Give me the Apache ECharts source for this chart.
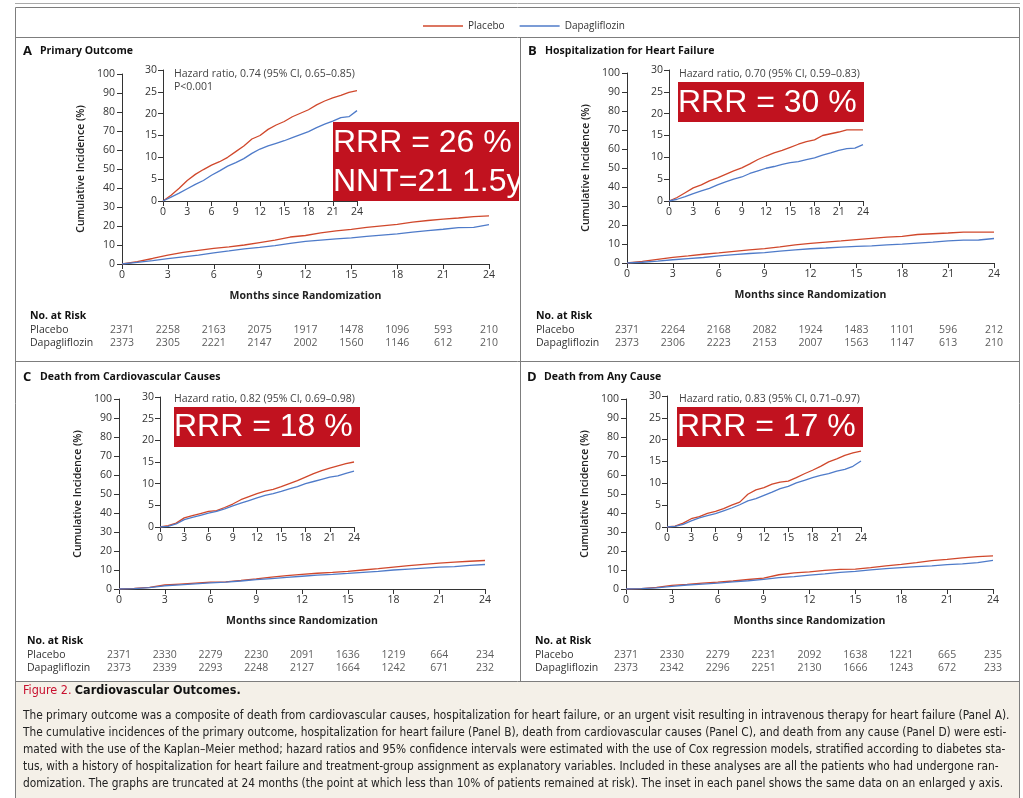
<!DOCTYPE html>
<html><head><meta charset="utf-8">
<script src="https://cdn.jsdelivr.net/npm/echarts@6/dist/echarts.min.js"></script>
<style>html,body{margin:0;padding:0;background:#fff}#c{width:1023px;height:798px}</style>
</head><body><div id="c"></div>
<script>
// ---------------- DATA ----------------
const months = [0,1,2,3,4,5,6,7,8,9,10,11,12,13,14,15,16,17,18,19,20,21,22,23,24];
const riskMonths = [0,3,6,9,12,15,18,21,24];
const seriesNames = ['Placebo','Dapagliflozin'];
const panelLetters = ['A','B','C','D'];
const panelTitles = ['Primary Outcome','Hospitalization for Heart Failure','Death from Cardiovascular Causes','Death from Any Cause'];
const hazardTexts = ['Hazard ratio, 0.74 (95% CI, 0.65\u20130.85)','Hazard ratio, 0.70 (95% CI, 0.59\u20130.83)','Hazard ratio, 0.82 (95% CI, 0.69\u20130.98)','Hazard ratio, 0.83 (95% CI, 0.71\u20130.97)'];
const pValueA = 'P<0.001';
const rrrTexts = [['RRR = 26 %','NNT=21 1.5y'],['RRR = 30 %'],['RRR = 18 %'],['RRR = 17 %']];
const xAxisTitle = 'Months since Randomization';
const yAxisTitle = 'Cumulative Incidence (%)';
const riskHeader = 'No. at Risk';

const placeboA = [0,1.3,2.9,4.7,6.1,7.2,8.2,9.0,10.0,11.3,12.6,14.2,15.0,16.4,17.4,18.2,19.3,20.1,20.9,22.0,22.9,23.6,24.2,24.9,25.3];
const dapaA    = [0,0.9,1.8,2.8,3.8,4.7,5.9,6.9,8.0,8.8,9.7,10.9,11.9,12.6,13.2,13.8,14.5,15.2,15.9,16.8,17.6,18.3,19.1,19.3,20.7];
const placeboB = [0,0.8,1.9,3.0,3.7,4.6,5.3,6.1,6.9,7.6,8.5,9.5,10.3,11.0,11.6,12.3,13.0,13.6,14.0,15.0,15.4,15.8,16.3,16.3,16.3];
const dapaB    = [0,0.4,1.0,1.7,2.3,2.9,3.7,4.4,5.0,5.5,6.3,6.9,7.5,7.9,8.4,8.8,9.0,9.5,9.9,10.5,11.0,11.6,12.0,12.1,12.9];
const placeboC = [0,0.3,0.9,2.1,2.6,3.1,3.6,3.8,4.5,5.3,6.3,7.0,7.7,8.3,8.7,9.3,10.0,10.7,11.5,12.3,13.0,13.6,14.1,14.6,15.0];
const dapaC    = [0,0.15,0.7,1.7,2.2,2.7,3.2,3.6,4.2,4.9,5.5,6.1,6.7,7.3,7.7,8.2,8.8,9.3,10.0,10.5,11.0,11.5,11.8,12.4,12.9];
const placeboD = [0,0.2,0.9,1.9,2.4,3.1,3.6,4.2,5.0,5.7,7.5,8.5,9.0,9.8,10.3,10.5,11.3,12.2,13.0,13.9,14.9,15.6,16.4,17.0,17.4];
const dapaD    = [0,0.15,0.6,1.4,2.1,2.6,3.05,3.7,4.35,5.1,6.0,6.5,7.25,8.0,8.8,9.3,10.1,10.7,11.3,11.8,12.2,12.8,13.2,13.9,15.1];

const riskPlaceboA = [2371,2258,2163,2075,1917,1478,1096,593,210];
const riskDapaA    = [2373,2305,2221,2147,2002,1560,1146,612,210];
const riskPlaceboB = [2371,2264,2168,2082,1924,1483,1101,596,212];
const riskDapaB    = [2373,2306,2223,2153,2007,1563,1147,613,210];
const riskPlaceboC = [2371,2330,2279,2230,2091,1636,1219,664,234];
const riskDapaC    = [2373,2339,2293,2248,2127,1664,1242,671,232];
const riskPlaceboD = [2371,2330,2279,2231,2092,1638,1221,665,235];
const riskDapaD    = [2373,2342,2296,2251,2130,1666,1243,672,233];

const captionLabel = 'Figure 2.';
const captionTitle = 'Cardiovascular Outcomes.';
const captionLines = [
 'The primary outcome was a composite of death from cardiovascular causes, hospitalization for heart failure, or an urgent visit resulting in intravenous therapy for heart failure (Panel A).',
 'The cumulative incidences of the primary outcome, hospitalization for heart failure (Panel B), death from cardiovascular causes (Panel C), and death from any cause (Panel D) were esti-',
 'mated with the use of the Kaplan\u2013Meier method; hazard ratios and 95% confidence intervals were estimated with the use of Cox regression models, stratified according to diabetes sta-',
 'tus, with a history of hospitalization for heart failure and treatment-group assignment as explanatory variables. Included in these analyses are all the patients who had undergone ran-',
 'domization. The graphs are truncated at 24 months (the point at which less than 10% of patients remained at risk). The inset in each panel shows the same data on an enlarged y axis.'
];

const curves = [[placeboA,dapaA],[placeboB,dapaB],[placeboC,dapaC],[placeboD,dapaD]];
const risks = [[riskPlaceboA,riskDapaA],[riskPlaceboB,riskDapaB],[riskPlaceboC,riskDapaC],[riskPlaceboD,riskDapaD]];

// ---------------- LAYOUT / STYLE ----------------
const FONT = "'Open Sans','Noto Sans',sans-serif";
const CAPFONT = "'Liberation Sans Narrow','DejaVu Sans Condensed',sans-serif";
const COLORS = ['#d0482c','#4f7bc9'];
const RED = '#c1121f';
const AXC = '#333';
const LAY = [
 {main:{left:122,top:74,width:367,height:190}, inset:{left:163,top:70,width:194,height:131}, risk:{left:122,top:323,width:367,height:27}, title:[23,51], hz:[174,74], rrr:[333,122,186,79], rrrY:[143,182], head:[30,316], lm:92},
 {main:{left:627,top:73,width:367,height:190}, inset:{left:669,top:70,width:194,height:131}, risk:{left:627,top:323,width:367,height:27}, title:[528,51], hz:[679,74], rrr:[678,82,186,40], rrrY:[103], head:[536,316], lm:91},
 {main:{left:119,top:399,width:366,height:190}, inset:{left:160,top:397,width:194,height:130}, risk:{left:119,top:648,width:366,height:27}, title:[23,377], hz:[174,399], rrr:[174,407,186,40], rrrY:[427], head:[27,641], lm:92},
 {main:{left:626,top:399,width:367,height:190}, inset:{left:667,top:396,width:194,height:131}, risk:{left:626,top:648,width:367,height:27}, title:[527,377], hz:[679,399], rrr:[677,407,186,40], rrrY:[427], head:[535,641], lm:91}
];

const grid=[], xAxis=[], yAxis=[], series=[], graphic=[];
const axBase = {axisLine:{show:true,lineStyle:{color:AXC,width:1}}, axisTick:{show:true,length:5,lineStyle:{color:AXC}}, splitLine:{show:false}, axisLabel:{fontFamily:FONT,fontSize:10.5,color:AXC}};
function valAxis(gi,min,max,interval,extra){ return Object.assign({type:'value',gridIndex:gi,min,max,interval},JSON.parse(JSON.stringify(axBase)),extra||{}); }

LAY.forEach((L,i)=>{
  const gM=grid.length; grid.push(L.main);
  const gI=grid.length; grid.push(L.inset);
  const gR=grid.length; grid.push(L.risk);
  // main
  const xm = valAxis(gM,0,24,3,{name:xAxisTitle,nameLocation:'middle',nameGap:27,nameTextStyle:{fontFamily:FONT,fontSize:10.5,fontWeight:'bold',color:'#222'}});
  xm.axisLabel.margin=6; xAxis.push(xm);
  const ym = valAxis(gM,0,100,10,{name:yAxisTitle,nameLocation:'middle',nameGap:35,nameTextStyle:{fontFamily:FONT,fontSize:10.5,fontWeight:600,color:'#222'}});
  ym.axisLabel.margin=7; yAxis.push(ym);
  // inset
  const xi = valAxis(gI,0,24,3); xi.axisLabel.margin=6; xAxis.push(xi);
  const yi = valAxis(gI,0,30,5); yi.axisLabel.margin=6; yAxis.push(yi);
  // risk
  xAxis.push({type:'value',gridIndex:gR,min:0,max:24,show:false});
  yAxis.push({type:'category',gridIndex:gR,data:seriesNames,inverse:true,axisLine:{show:false},axisTick:{show:false},
    axisLabel:{interval:0,align:'left',margin:L.lm,fontFamily:FONT,fontSize:10.5,color:AXC}});
  const axM = xAxis.length-3, axI = xAxis.length-2, axR = xAxis.length-1;
  [axM,axI].forEach(ax=>{
    curves[i].forEach((arr,j)=>{
      series.push({name:seriesNames[j],type:'line',xAxisIndex:ax,yAxisIndex:ax,showSymbol:false,symbol:'none',
        data:months.map((m,k)=>[m,arr[k]]),lineStyle:{color:COLORS[j],width:1.3},itemStyle:{color:COLORS[j]},z:3,animation:false});
    });
  });
  risks[i].forEach((arr,j)=>{
    series.push({name:'risk',type:'scatter',xAxisIndex:axR,yAxisIndex:axR,symbolSize:1,itemStyle:{color:'rgba(0,0,0,0)'},
      data:riskMonths.map((m,k)=>[m,seriesNames[j],arr[k]]),
      label:{show:true,position:'inside',formatter:p=>String(p.value[2]),fontFamily:FONT,fontSize:10.5,color:AXC},animation:false});
  });
  // title
  graphic.push({type:'text',x:L.title[0],y:L.title[1],style:{text:panelLetters[i],font:`bold 13px ${FONT}`,fill:'#111',verticalAlign:'middle'}});
  graphic.push({type:'text',x:L.title[0]+17,y:L.title[1],style:{text:panelTitles[i],font:`bold 10.5px ${FONT}`,fill:'#111',verticalAlign:'middle'}});
  // hazard
  graphic.push({type:'text',x:L.hz[0],y:L.hz[1],style:{text:hazardTexts[i],font:`10.5px ${FONT}`,fill:'#444',verticalAlign:'middle'}});
  if(i===0) graphic.push({type:'text',x:L.hz[0],y:L.hz[1]+13,style:{text:pValueA,font:`10.5px ${FONT}`,fill:'#444',verticalAlign:'middle'}});
  // RRR box
  graphic.push({type:'rect',shape:{x:L.rrr[0],y:L.rrr[1],width:L.rrr[2],height:L.rrr[3]},style:{fill:RED},z:100});
  rrrTexts[i].forEach((t,k)=>{
    graphic.push({type:'text',x:L.rrr[0],y:L.rrrY[k],style:{text:t,font:`32px 'Liberation Sans',Arial,sans-serif`,fill:'#fff',verticalAlign:'middle'},z:101});
  });
  // risk header
  graphic.push({type:'text',x:L.head[0],y:L.head[1],style:{text:riskHeader,font:`bold 10.5px ${FONT}`,fill:'#111',verticalAlign:'middle'}});
});

// frame
const FR='#7d7d7d';
graphic.push({type:'rect',shape:{x:520.5,y:150,width:14,height:55},style:{fill:'#fff'},z:102});
graphic.push({type:'line',shape:{x1:15,y1:3.5,x2:1020,y2:3.5},style:{stroke:'#aaa',lineWidth:1},z:103});
graphic.push({type:'rect',shape:{x:15.5,y:7.5,width:1004,height:800},style:{fill:'none',stroke:FR,lineWidth:1},z:103});
graphic.push({type:'line',shape:{x1:15,y1:37.5,x2:1020,y2:37.5},style:{stroke:FR,lineWidth:1},z:103});
graphic.push({type:'line',shape:{x1:15,y1:361.5,x2:1020,y2:361.5},style:{stroke:FR,lineWidth:1},z:103});
graphic.push({type:'line',shape:{x1:520.5,y1:37,x2:520.5,y2:681},style:{stroke:FR,lineWidth:1},z:103});
graphic.push({type:'rect',shape:{x:15.5,y:681.5,width:1004,height:120},style:{fill:'#f4f0e8',stroke:FR,lineWidth:1},z:102});
// caption
graphic.push({type:'text',x:23,y:691,style:{text:`{r|${captionLabel}} {b|${captionTitle}}`,verticalAlign:'middle',
  rich:{r:{font:`12.5px ${CAPFONT}`,fill:'#c8102e'},b:{font:`bold 12.5px ${CAPFONT}`,fill:'#111'}}},z:104});
captionLines.forEach((t,k)=>{
  graphic.push({type:'text',x:23,y:716+17*k,style:{text:t,font:`11.8px ${CAPFONT}`,fill:'#222',verticalAlign:'middle'},z:104});
});

const chart = echarts.init(document.getElementById('c'),null,{renderer:'canvas'});
chart.setOption({
  backgroundColor:'#fff',
  animation:false,
  legend:{data:seriesNames,left:418,top:16,icon:'rect',itemWidth:40,itemHeight:1.5,itemGap:15,selectedMode:false,
    textStyle:{fontFamily:FONT,fontSize:10,color:'#333'}},
  grid, xAxis, yAxis, series, graphic
});
</script></body></html>
